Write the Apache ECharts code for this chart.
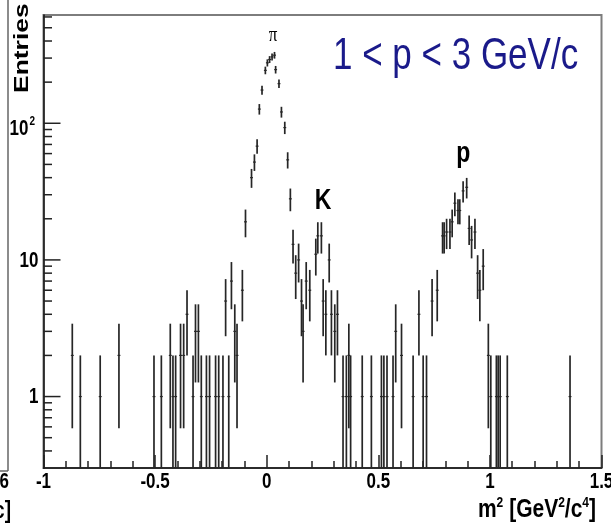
<!DOCTYPE html>
<html>
<head>
<meta charset="utf-8">
<script src="https://cdn.jsdelivr.net/npm/echarts@6/dist/echarts.min.js"></script>
<style>
  html, body { margin: 0; padding: 0; background: #fff; }
  #chart { width: 611px; height: 524px; }
</style>
</head>
<body>
<div id="chart"></div>
<script>
// Squared mass (GeV^2/c^4) of each filled bin and its number of entries
const mSquared = [
  -0.871, -0.835, -0.746, -0.662, -0.505, -0.472, -0.432, -0.420, -0.408, -0.386,
  -0.372, -0.357, -0.330, -0.319, -0.306, -0.293, -0.270, -0.256, -0.229, -0.215,
  -0.196, -0.184, -0.170, -0.158, -0.143, -0.133, -0.109,
  -0.095, -0.068, -0.055, -0.043, -0.033, -0.021, -0.006, 0.003, 0.013, 0.024,
  0.035, 0.040, 0.055, 0.066, 0.081, 0.094, 0.106, 0.118,
  0.130, 0.143, 0.156, 0.163, 0.177, 0.193, 0.220, 0.229, 0.245, 0.253,
  0.265, 0.280, 0.290, 0.305, 0.317, 0.342, 0.357, 0.368, 0.376, 0.428,
  0.469, 0.514, 0.525, 0.539, 0.566, 0.578, 0.604, 0.656, 0.682, 0.701,
  0.716, 0.741, 0.764, 0.788, 0.795, 0.806, 0.821, 0.831, 0.843, 0.857,
  0.865, 0.880, 0.896, 0.907, 0.918, 0.933, 0.945, 0.955, 0.970, 0.993,
  1.004, 1.029, 1.037, 1.046, 1.078, 1.359
];
const entries = [
  2, 1, 1, 2, 1, 1, 2, 1, 1, 2,
  2, 4, 1, 3, 3, 1, 1, 1, 1, 1,
  1, 5, 1, 7, 3, 2, 6,
  19, 40, 52, 68, 127, 175, 244, 277, 293, 306,
  315, 247, 195, 121, 93, 54, 28, 13,
  8, 10, 5, 3, 7, 6, 11, 15, 15, 5,
  4, 10, 4, 3, 4, 1, 1, 2, 1, 1,
  1, 1, 1, 1, 1, 3, 2, 1, 4, 1,
  1, 5, 6, 15, 15, 16, 16, 19, 26, 23,
  23, 32, 34, 17, 14, 16, 8, 6, 9, 2,
  1, 1, 1, 1, 1, 1
];

// Axis ticks and labels
const xTickValues = [-1, -0.5, 0, 0.5, 1, 1.5];
const xTickLabels = ['-1', '-0.5', '0', '0.5', '1', '1.5'];
const yMajorTicks = [1, 10, 100];
const yTickLabels = ['1', '10', '10'];
const yTickExponents = ['', '', '2'];
const yMinorTicks = [0.4, 0.5, 0.6, 0.7, 0.8, 0.9, 2, 3, 4, 5, 6, 7, 8, 9,
  20, 30, 40, 50, 60, 70, 80, 90, 200, 300, 400, 500, 600];

// Particle peak annotations: [m^2, entries, text]
const peakLabels = [[0.028, 440, '\u03c0'], [0.253, 27, 'K'], [0.881, 60, 'p']];

const X_MIN = -1, X_MAX = 1.5, Y_MIN = 0.3, Y_MAX = 620;
const BIN_HALF_WIDTH = 0.0065;
const FONT = '"Liberation Sans", Arial, Helvetica, sans-serif';
const STRETCH = 1.26; // vertical stretch of the canvas lettering

const chart = echarts.init(document.getElementById('chart'), null, { renderer: 'canvas' });

function errorBarItem(params, api) {
  const x = api.value(0), n = api.value(1);
  const err = Math.sqrt(n);
  const cs = params.coordSys;
  const yTop = cs.y, yBottom = cs.y + cs.height;
  const c = api.coord([x, n]);
  const hi = Math.max(api.coord([x, n + err])[1], yTop);
  const lo = (n - err) > Y_MIN ? Math.min(api.coord([x, n - err])[1], yBottom) : yBottom;
  const l = api.coord([x - BIN_HALF_WIDTH, n])[0];
  const r = api.coord([x + BIN_HALF_WIDTH, n])[0];
  return {
    type: 'group',
    children: [
      { type: 'line', shape: { x1: c[0], y1: hi, x2: c[0], y2: lo },
        style: { stroke: '#262626', lineWidth: 1.7 } },
      { type: 'line', shape: { x1: l, y1: c[1], x2: r, y2: c[1] },
        style: { stroke: '#262626', lineWidth: 1.2 } }
    ]
  };
}

function yTickItem(len) {
  return function (params, api) {
    const p = api.coord([X_MIN, api.value(0)]);
    return { type: 'line', shape: { x1: p[0], y1: p[1], x2: p[0] + len, y2: p[1] },
      style: { stroke: '#222', lineWidth: 1.5 } };
  };
}

function yLabelItem(params, api) {
  const i = params.dataIndex;
  const p = api.coord([X_MIN, api.value(0)]);
  const exp = yTickExponents[i];
  const right = p[0] - (exp ? 15 : 5);
  const children = [{
    type: 'text', x: right, y: p[1] + (exp ? 6 : 1), scaleY: STRETCH,
    style: { text: yTickLabels[i], fontFamily: FONT, fontWeight: 'bold', fontSize: 17,
      fill: '#000', align: 'right', verticalAlign: 'middle' }
  }];
  if (exp) {
    children.push({
      type: 'text', x: right + 1, y: p[1] - 2, scaleY: STRETCH,
      style: { text: exp, fontFamily: FONT, fontWeight: 'bold', fontSize: 10,
        fill: '#000', align: 'left', verticalAlign: 'middle' }
    });
  }
  return { type: 'group', children };
}

function xLabelItem(params, api) {
  const i = params.dataIndex;
  const p = api.coord([api.value(0), Y_MIN]);
  return {
    type: 'text', x: p[0], y: p[1] + 3, scaleY: STRETCH,
    style: { text: xTickLabels[i], fontFamily: FONT, fontWeight: 'bold', fontSize: 17,
      fill: '#000', align: 'center', verticalAlign: 'top' }
  };
}

function peakLabelItem(params, api) {
  const i = params.dataIndex;
  const p = api.coord([api.value(0), api.value(1)]);
  const txt = peakLabels[i][2];
  const isPi = txt === '\u03c0';
  return {
    type: 'text', x: p[0], y: p[1], scaleY: STRETCH,
    style: { text: txt, fontFamily: isPi ? '"Liberation Serif", "DejaVu Serif", serif' : FONT,
      fontWeight: isPi ? 'normal' : 'bold', fontSize: isPi ? 17 : 23,
      fill: '#000', align: 'center', verticalAlign: 'middle' }
  };
}

const option = {
  animation: false,
  backgroundColor: '#fff',
  grid: {
    left: 43.5, right: 9.5, top: 15, bottom: 56,
    show: true, borderColor: '#7d7d7d', borderWidth: 2, backgroundColor: 'transparent',
    outerBoundsMode: 'none'
  },
  xAxis: {
    type: 'value', min: X_MIN, max: X_MAX, interval: 0.5,
    axisLine: { show: true, onZero: false, lineStyle: { color: '#111', width: 1.5 } },
    axisTick: { show: true, inside: true, length: 13, lineStyle: { color: '#222', width: 1.5 } },
    minorTick: { show: true, splitNumber: 5, length: 7, lineStyle: { color: '#222', width: 1.5 } },
    axisLabel: { show: false },
    splitLine: { show: false }
  },
  yAxis: {
    type: 'log', logBase: 10, min: Y_MIN, max: Y_MAX,
    axisLine: { show: true, onZero: false, lineStyle: { color: '#111', width: 1.5 } },
    axisTick: { show: false },
    axisLabel: { show: false },
    splitLine: { show: false }
  },
  series: [
    { type: 'custom', name: 'entries', renderItem: errorBarItem, clip: true,
      data: mSquared.map((m, i) => [m, entries[i]]) },
    { type: 'custom', silent: true, renderItem: yTickItem(17), clip: false,
      data: yMajorTicks.map(v => [v]), encode: { y: 0 } },
    { type: 'custom', silent: true, renderItem: yTickItem(8.5), clip: false,
      data: yMinorTicks.map(v => [v]), encode: { y: 0 } },
    { type: 'custom', silent: true, renderItem: yLabelItem, clip: false,
      data: yMajorTicks.map(v => [v]), encode: { y: 0 } },
    { type: 'custom', silent: true, renderItem: xLabelItem, clip: false,
      data: xTickValues.map(v => [v]), encode: { x: 0 } },
    { type: 'custom', silent: true, renderItem: peakLabelItem, clip: false,
      data: peakLabels.map(d => [d[0], d[1]]) }
  ],
  graphic: [
    // axis titles
    { type: 'text', x: 33, y: 93, rotation: Math.PI / 2, scaleX: STRETCH,
      style: { text: 'Entries', fontFamily: FONT, fontWeight: 'bold', fontSize: 21,
        fill: '#000', align: 'left', verticalAlign: 'bottom' } },
    { type: 'text', x: 596, y: 523, scaleY: STRETCH,
      style: {
        text: '{b|m}{s|2}{b| [GeV}{s|2}{b|/c}{s|4}{b|]}',
        fontFamily: FONT, align: 'right', verticalAlign: 'bottom',
        rich: {
          b: { fontFamily: FONT, fontWeight: 'bold', fontSize: 21, fill: '#000', verticalAlign: 'bottom' },
          s: { fontFamily: FONT, fontWeight: 'bold', fontSize: 12, fill: '#000', verticalAlign: 'top', padding: [0, 0, 10, 0] }
        }
      } },
    // momentum range
    { type: 'text', x: 333, y: 57, scaleY: STRETCH,
      style: { text: '1 < p < 3 GeV/c', fontFamily: FONT, fontSize: 35,
        fill: '#1a1a8a', align: 'left', verticalAlign: 'middle' } },
    // edge of the neighbouring panel
    { type: 'line', shape: { x1: 8, y1: 0, x2: 8, y2: 471 },
      style: { stroke: '#666', lineWidth: 1.5 } },
    { type: 'line', shape: { x1: 0, y1: 471, x2: 8, y2: 471 },
      style: { stroke: '#666', lineWidth: 1.5 } },
    { type: 'text', x: 9, y: 482, scaleY: STRETCH,
      style: { text: '6', fontFamily: FONT, fontWeight: 'bold', fontSize: 17,
        fill: '#000', align: 'right', verticalAlign: 'middle' } },
    { type: 'text', x: 11, y: 511, scaleY: STRETCH,
      style: { text: 'c]', fontFamily: FONT, fontWeight: 'bold', fontSize: 19,
        fill: '#000', align: 'right', verticalAlign: 'middle' } }
  ]
};

chart.setOption(option);
</script>
</body>
</html>
